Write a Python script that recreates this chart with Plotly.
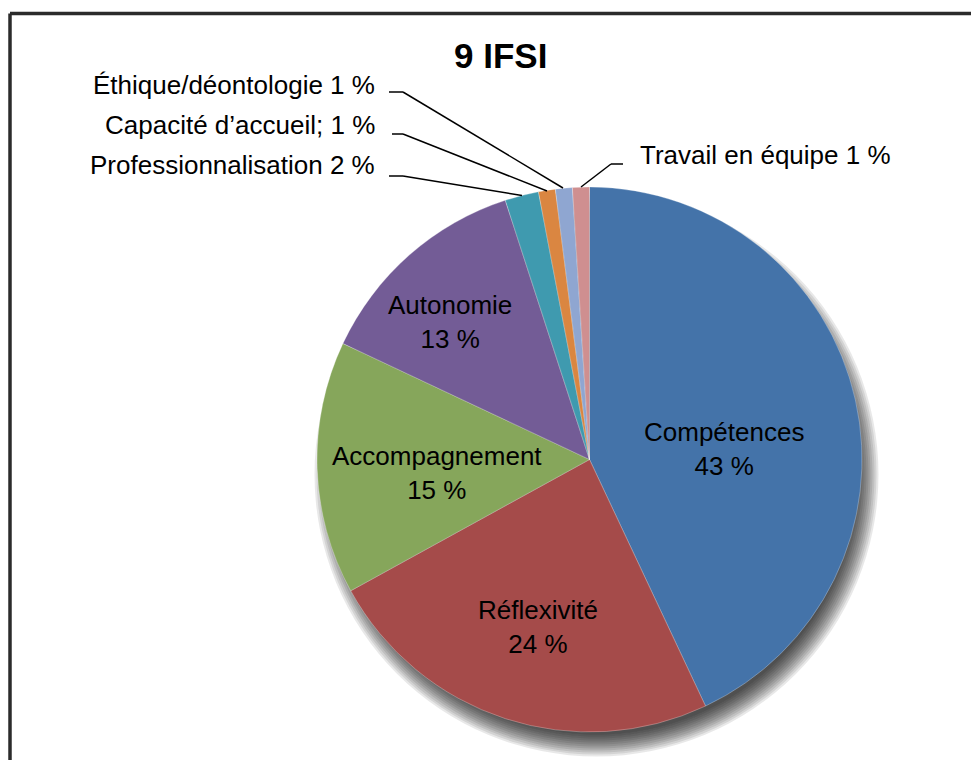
import plotly.graph_objects as go

# ---- data ----
categories = ["Compétences", "Réflexivité", "Accompagnement", "Autonomie",
              "Professionnalisation", "Capacité d’accueil;", "Éthique/déontologie",
              "Travail en équipe"]
values = [43, 24, 15, 13, 2, 1, 1, 1]
title_text = "9 IFSI"

# ---- styles ----
colors = ["#4473A9", "#A54B4A", "#86A65B", "#735C96", "#3F9AAF", "#DA8641", "#8FA6D1", "#CF8F90"]
W, H = 979, 760
FONT = "Liberation Sans, Arial, sans-serif"
OFF = 8  # page body margin compensation (pixels)


def P(x, y):
    return x - OFF, y - OFF


# pie geometry (target page pixels)
cx, cy, R = 589.5, 459.5, 272.5
pcx, pcy = P(cx, cy)

inside_pos = {0: (724, 449), 1: (538, 627), 2: (437, 473), 3: (450, 322)}
outside_pos = {4: (377, 165, "right"), 5: (377, 125, "right"),
               6: (377, 85, "right"), 7: (638, 155, "left")}
leaders = {4: [(389, 176), (403, 176), (522, 195.5)],
           5: [(392, 134), (403, 134), (547, 191)],
           6: [(389, 92), (403, 92), (563, 188)],
           7: [(623, 164), (611, 164), (581, 187)]}

fig = go.Figure()
fig.add_trace(go.Scatter(x=[], y=[], showlegend=False, hoverinfo="skip"))
fig.add_trace(go.Pie(
    labels=categories, values=values, sort=False, direction="clockwise",
    rotation=0, textinfo="none", hoverinfo="label+value",
    marker=dict(colors=colors, line=dict(color="rgba(255,255,255,0.35)", width=0.8)),
    domain=dict(x=[(pcx - R) / W, (pcx + R) / W], y=[1 - (pcy + R) / H, 1 - (pcy - R) / H]),
    showlegend=False,
))

shapes = []
# soft drop shadow
scx, scy = pcx + 7, pcy + 15
for r in range(260, 284, 2):
    shapes.append(dict(type="circle", xref="x", yref="y", x0=scx - r, x1=scx + r,
                       y0=scy - r, y1=scy + r, fillcolor="rgba(0,0,0,0.09)",
                       line=dict(width=0), layer="below"))
# frame
fx, fy = P(10, 13.5)
shapes.append(dict(type="line", xref="x", yref="y", x0=fx, y0=fy, x1=1000, y1=fy,
                   line=dict(color="#2b2b2b", width=3.5)))
shapes.append(dict(type="line", xref="x", yref="y", x0=fx, y0=fy, x1=fx, y1=780,
                   line=dict(color="#2b2b2b", width=3.5)))
# leader lines
for i, pts in leaders.items():
    for a, b in zip(pts[:-1], pts[1:]):
        (x0, y0), (x1, y1) = P(*a), P(*b)
        shapes.append(dict(type="line", xref="x", yref="y", x0=x0, y0=y0, x1=x1, y1=y1,
                           line=dict(color="black", width=1.5)))

tx, ty = P(500, 55)
annotations = [dict(x=tx, y=ty, xref="x", yref="y", text=f"<b>{title_text}</b>",
                    showarrow=False, font=dict(family=FONT, size=35, color="black"),
                    xanchor="center", yanchor="middle")]
for i, (x, y) in inside_pos.items():
    x, y = P(x, y)
    annotations.append(dict(x=x, y=y, xref="x", yref="y",
                            text=f"{categories[i]}<br>{values[i]} %", showarrow=False,
                            font=dict(family=FONT, size=26, color="black"),
                            xanchor="center", yanchor="middle"))
for i, (x, y, anc) in outside_pos.items():
    x, y = P(x, y)
    annotations.append(dict(x=x, y=y, xref="x", yref="y",
                            text=f"{categories[i]} {values[i]} %", showarrow=False,
                            font=dict(family=FONT, size=26, color="black"),
                            xanchor=anc, yanchor="middle"))

fig.update_layout(
    width=W, height=H, margin=dict(l=0, r=0, t=0, b=0),
    paper_bgcolor="white", plot_bgcolor="rgba(0,0,0,0)",
    xaxis=dict(range=[0, W], visible=False, domain=[0, 1], fixedrange=True),
    yaxis=dict(range=[H, 0], visible=False, domain=[0, 1], fixedrange=True),
    shapes=shapes, annotations=annotations, showlegend=False,
)

fig.write_html("out.html")
